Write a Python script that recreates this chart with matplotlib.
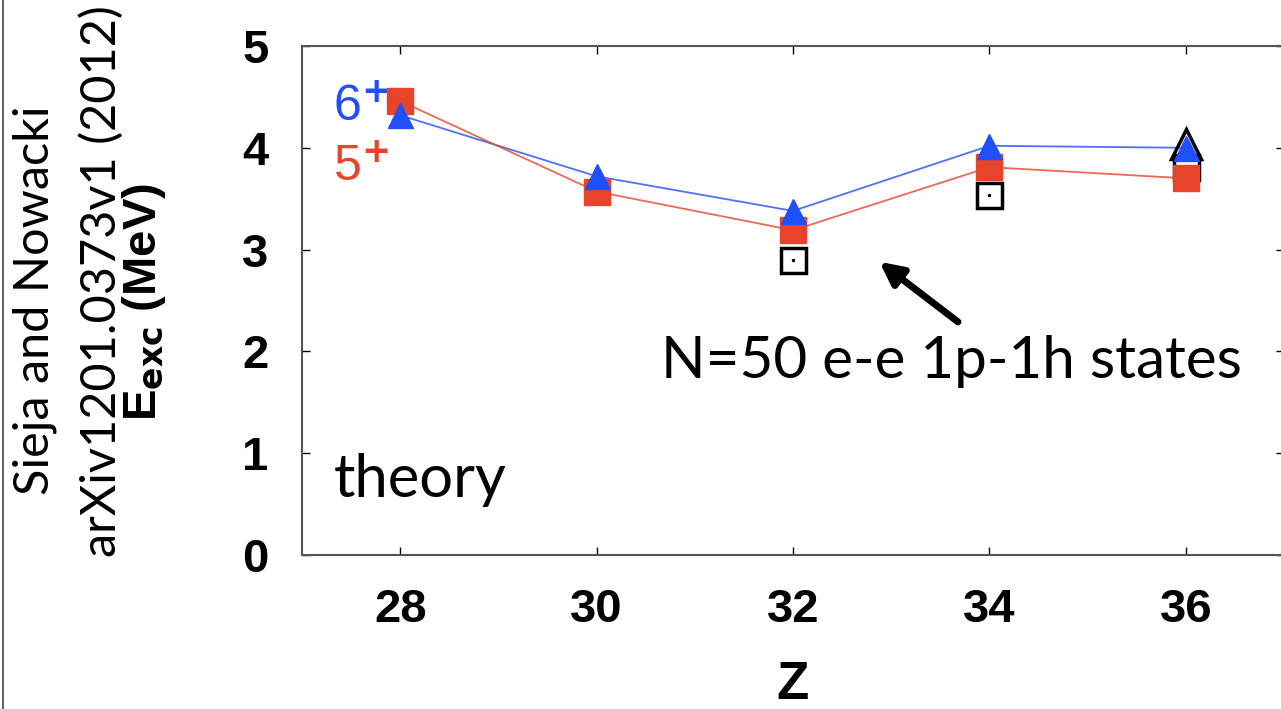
import numpy as np
import matplotlib.pyplot as plt
from matplotlib.lines import Line2D

# theory values
z = [28, 30, 32, 34, 36]
e6 = [4.32, 3.72, 3.38, 4.02, 4.00]   # 6+ (blue triangles)
e5 = [4.46, 3.57, 3.19, 3.81, 3.70]   # 5+ (red squares)

# experimental points (open squares / open triangle)
z_exp = [32, 34, 36]
e_exp = [2.90, 3.54, 3.81]
z_exp6 = [36]
e_exp6 = [4.04]

blue = '#1f4fff'
red = '#e8442c'

fig = plt.figure(figsize=(12.81, 7.09), dpi=100)
ax = fig.add_axes([302/1281, 1 - 555/709, (1284 - 302)/1281, (555 - 46)/709])

ax.plot(z, e6, '-', color=blue, lw=1.3, alpha=0.8, zorder=2)
ax.plot(z, e5, '-', color=red, lw=1.3, alpha=0.8, zorder=2)
ax.plot(z_exp, e_exp, 's', ms=18, mfc='white', mec='black', mew=2.5, zorder=3)
ax.plot(z_exp, e_exp, '.', ms=3, color='black', zorder=3)
ax.plot(z_exp6, e_exp6, '^', ms=21, mfc='none', mec='black', mew=2.5, zorder=3)
ax.plot(z, e5, 's', ms=19, color=red, mec=red, zorder=4)
ax.plot(z, e6, '^', ms=18, color=blue, mec=blue, zorder=5)

ax.set_xlim(27, 37)
ax.set_ylim(0, 5)
ax.set_xticks(z)
ax.set_yticks([0, 1, 2, 3, 4, 5])
ax.tick_params(direction='in', length=6, width=1, top=True, right=True,
               labelsize=34)
ax.tick_params(axis='x', pad=24)
ax.tick_params(axis='y', pad=24)
for lab in ax.get_xticklabels() + ax.get_yticklabels():
    lab.set_family('Liberation Sans')
    lab.set_weight('bold')
for s in ax.spines.values():
    s.set_color('#555555')
    s.set_linewidth(1.5)

fig.text(793/1281, 1 - 685/709, 'Z', fontsize=38, family='Liberation Sans',
         weight='bold', ha='center', va='center')
fig.text(144/1281, 1 - 302/709, r'E$_{\mathbf{exc}}$ (MeV)', rotation=90,
         fontsize=34, family='Liberation Sans', weight='bold',
         ha='center', va='center')

ax.text(27.32, 4.38, r'6$^{\mathbf{+}}$', color=blue, fontsize=36,
        family='Liberation Sans', ha='left', va='center')
ax.text(27.32, 3.79, r'5$^{\mathbf{+}}$', color=red, fontsize=36,
        family='Liberation Sans', ha='left', va='center')

ax.text(27.32, 0.57, 'theory', fontsize=43, family='Lato', ha='left', va='baseline')
ax.text(33.61, 1.74, 'N=50 e-e 1p-1h states', fontsize=42, family='Lato',
        ha='center', va='baseline')
ax.annotate('', xy=(32.88, 2.88), xytext=(33.68, 2.29),
            arrowprops=dict(arrowstyle='-|>', color='black', lw=5,
                            mutation_scale=34, shrinkA=0, shrinkB=0))

fig.text(35/1281, 1 - 300/709, 'Sieja and Nowacki', rotation=90, fontsize=35,
         family='Lato', ha='center', va='center')
fig.text(101/1281, 1 - 281/709, 'arXiv1201.0373v1 (2012)', rotation=90, fontsize=35,
         family='Lato', ha='center', va='center')

fig.add_artist(Line2D([0.0025, 0.0025], [0, 1], color='#666666', lw=1.5))

fig.savefig('out.png', dpi=100)
